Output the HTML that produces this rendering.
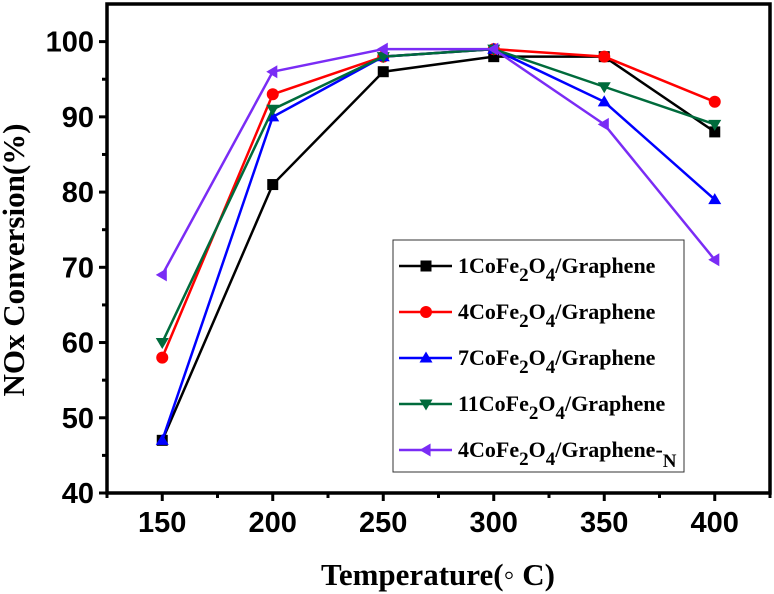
<!DOCTYPE html>
<html><head><meta charset="utf-8"><style>
body{margin:0;background:#fff}
svg{display:block;font-family:"Liberation Serif",serif}
.tk{font-family:"Liberation Sans",sans-serif;font-weight:bold;font-size:29px}
</style></head><body>
<svg id="c" width="774" height="594"></svg>
<script>
const temps=[150,200,250,300,350,400];
const s1=[47,81,96,98,98,88];
const s4=[58,93,98,99,98,92];
const s7=[47,90,98,99,92,79];
const s11=[60,91,98,99,94,89];
const sN=[69,96,99,99,89,71];
const xTicks=[150,200,250,300,350,400];
const yTicks=[40,50,60,70,80,90,100];
const series=[s1,s4,s7,s11,sN];
const colors=["#000","#f00","#00f","#006b3c","#7a2cf5"];
const markers=["sq","ci","tu","td","tl"];
const L=107,R=770,T=4,B=493,x0=125,x1=425,y0=40,y1=105;
const X=v=>L+(v-x0)/(x1-x0)*(R-L), Y=v=>B-(v-y0)/(y1-y0)*(B-T);
const svg=document.getElementById('c'),NS="http://www.w3.org/2000/svg";
function mk(t,a,p){const e=document.createElementNS(NS,t);for(const k in a)e.setAttribute(k,a[k]);(p||svg).appendChild(e);return e;}
function marker(m,cx,cy,c,g){let e;const r=6.5;
 if(m=="sq")e=mk('rect',{x:cx-5.5,y:cy-5.5,width:11,height:11,fill:c},g);
 else if(m=="ci")e=mk('circle',{cx,cy,r:6,fill:c},g);
 else{let p;if(m=="tu")p=[[cx,cy-r],[cx-r,cy+r*0.7],[cx+r,cy+r*0.7]];
 else if(m=="td")p=[[cx,cy+r],[cx-r,cy-r*0.7],[cx+r,cy-r*0.7]];
 else p=[[cx-r,cy],[cx+r*0.7,cy-r],[cx+r*0.7,cy+r]];
 e=mk('polygon',{points:p.map(q=>q.join(',')).join(' '),fill:c},g);}
 return e;}
xTicks.forEach((v,i)=>{mk('line',{x1:X(v),x2:X(v),y1:B,y2:B+8,stroke:'#000','stroke-width':3});
 const t=mk('text',{x:X(v),y:B+39,'text-anchor':'middle',class:'tk'});t.textContent=v;
 
 
 mk('line',{x1:X(v+25),x2:X(v+25),y1:B,y2:B+5,stroke:'#000','stroke-width':3});});
mk('line',{x1:X(125),x2:X(125),y1:B,y2:B+5,stroke:'#000','stroke-width':3});
yTicks.forEach(v=>{mk('line',{x1:L-8,x2:L,y1:Y(v),y2:Y(v),stroke:'#000','stroke-width':3});
 const t=mk('text',{x:L-13,y:Y(v)+10,'text-anchor':'end',class:'tk'});t.textContent=v;
 
 
 if(v<100)mk('line',{x1:L-5,x2:L,y1:Y(v+5),y2:Y(v+5),stroke:'#000','stroke-width':3});});
mk('rect',{x:L,y:T,width:R-L,height:B-T,fill:'none',stroke:'#000','stroke-width':3.5});
series.forEach((d,i)=>{const g=mk('g',{});
 
 
 mk('polyline',{points:d.map((v,j)=>X(temps[j])+','+Y(v)).join(' '),fill:'none',stroke:colors[i],'stroke-width':2.5},g);
 d.forEach((v,j)=>{const m=marker(markers[i],X(temps[j]),Y(v),colors[i],g);
  
  });});
const lg=mk('g',{});


mk('rect',{x:393,y:240,width:291,height:232,fill:'#fff',stroke:'#333','stroke-width':1},lg);
const sub='font-size="19"';
const labs=['1CoFe<tspan dy="8" '+sub+'>2</tspan><tspan dy="-8">O</tspan><tspan dy="8" '+sub+'>4</tspan><tspan dy="-8">/Graphene</tspan>',
'4CoFe<tspan dy="8" '+sub+'>2</tspan><tspan dy="-8">O</tspan><tspan dy="8" '+sub+'>4</tspan><tspan dy="-8">/Graphene</tspan>',
'7CoFe<tspan dy="8" '+sub+'>2</tspan><tspan dy="-8">O</tspan><tspan dy="8" '+sub+'>4</tspan><tspan dy="-8">/Graphene</tspan>',
'11CoFe<tspan dy="8" '+sub+'>2</tspan><tspan dy="-8">O</tspan><tspan dy="8" '+sub+'>4</tspan><tspan dy="-8">/Graphene</tspan>',
'4CoFe<tspan dy="8" '+sub+'>2</tspan><tspan dy="-8">O</tspan><tspan dy="8" '+sub+'>4</tspan><tspan dy="-8">/Graphene-</tspan><tspan dy="10" '+sub+'>N</tspan>'];
labs.forEach((h,i)=>{const y=266+i*46;
 mk('line',{x1:399,x2:452,y1:y,y2:y,stroke:colors[i],'stroke-width':2.5},lg);
 marker(markers[i],426,y,colors[i],lg);
 const t=mk('text',{x:458,y:y+7,'font-size':22,'font-weight':'bold'},lg);t.innerHTML=h;
 
 });
const xt=mk('text',{x:438,y:585,'text-anchor':'middle','font-size':31,'font-weight':'bold'});xt.textContent='Temperature(◦ C)';


const yt=mk('text',{x:0,y:0,'text-anchor':'middle','font-size':31,'font-weight':'bold',transform:'translate(24,260) rotate(-90)'});yt.textContent='NOx Conversion(%)';


</script>
</body></html>
